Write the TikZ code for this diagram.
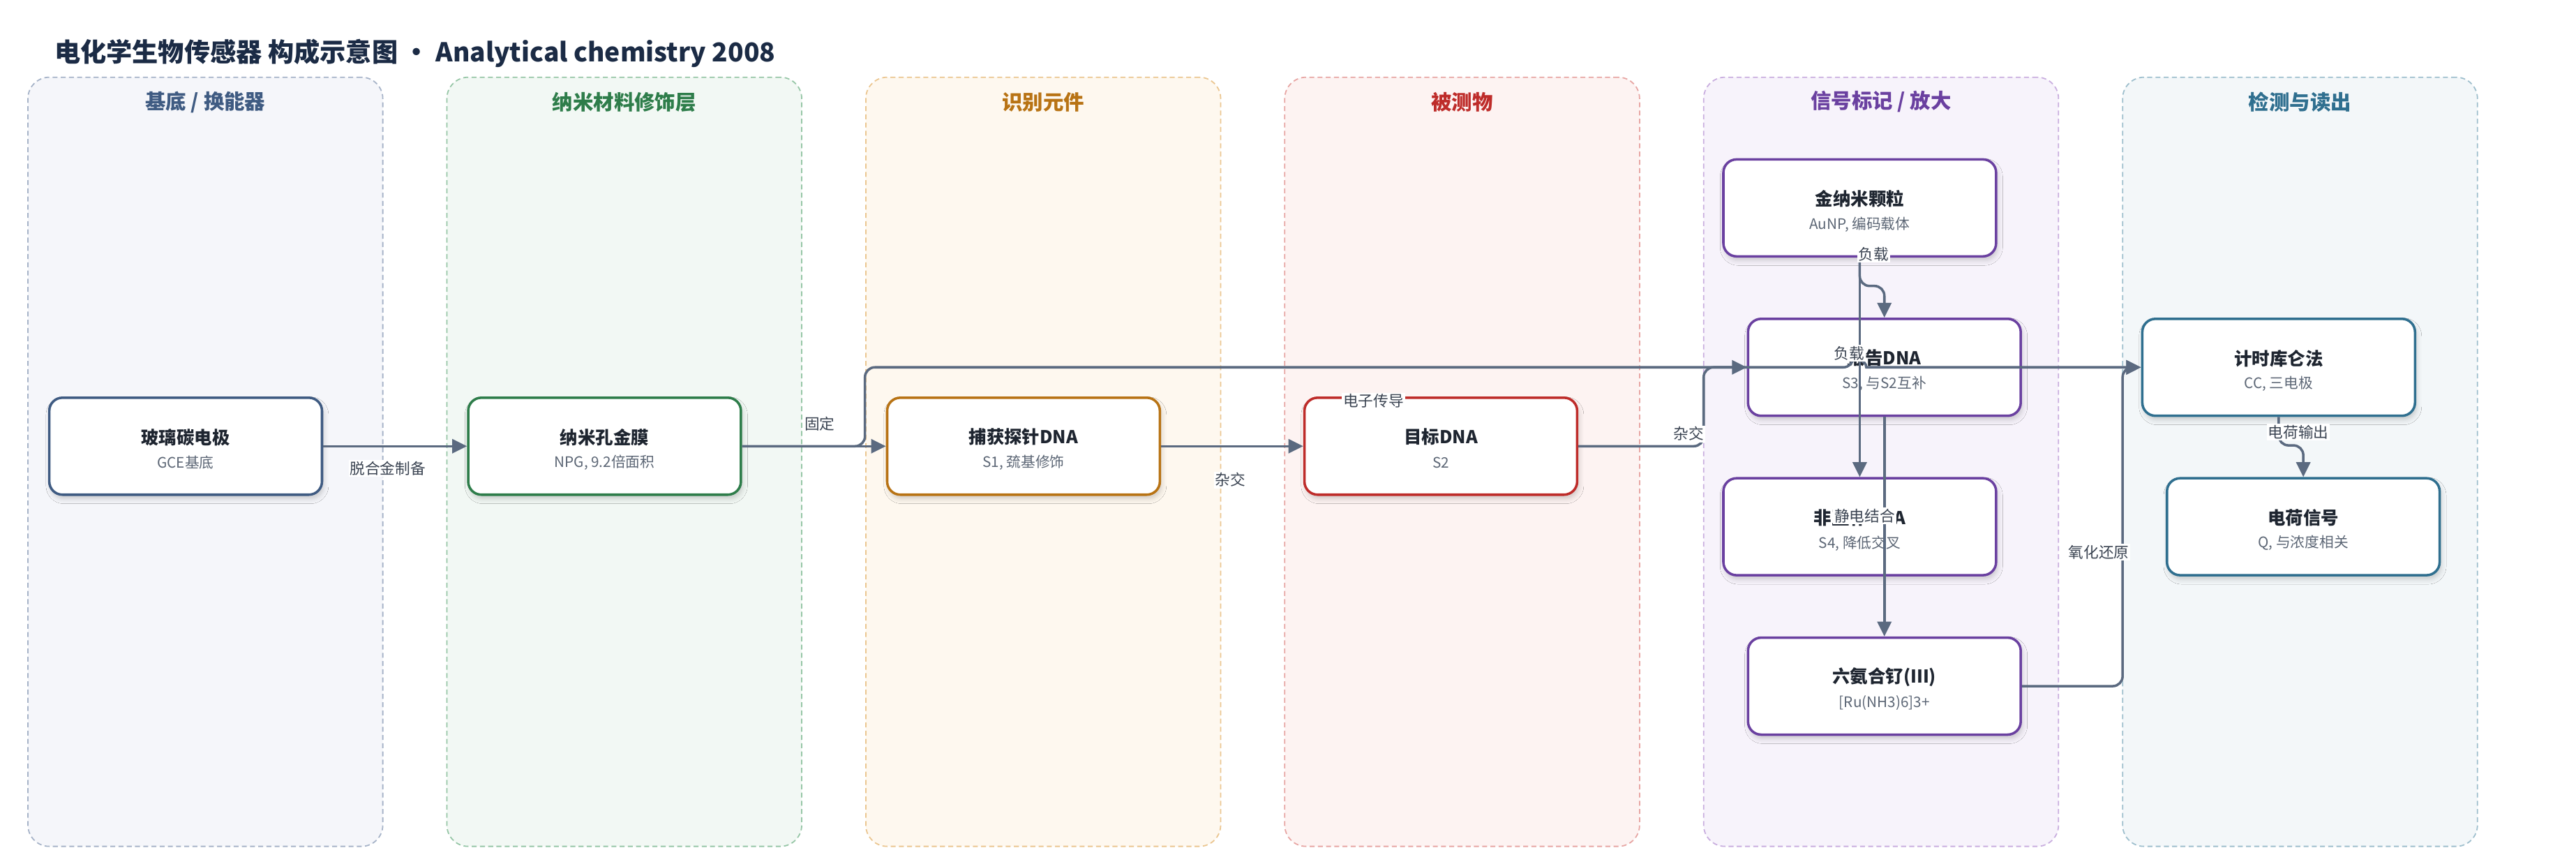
\documentclass[tikz,border=0pt]{standalone}
\usepackage{fontspec}
\setmainfont{Noto Sans CJK SC}
\usetikzlibrary{arrows.meta,shadows.blur}
\definecolor{titlecol}{HTML}{1B2B45}
\definecolor{txtdark}{HTML}{1E2530}
\definecolor{txtsub}{HTML}{5C6675}
\definecolor{edgecol}{HTML}{5B6A80}
\definecolor{labcol}{HTML}{3B4452}
% lane colours
\definecolor{fA}{HTML}{F5F6FA}\definecolor{bA}{HTML}{A6B3C8}\definecolor{cA}{HTML}{3F5B82}
\definecolor{fB}{HTML}{F2F8F4}\definecolor{bB}{HTML}{96C6A6}\definecolor{cB}{HTML}{2E7D4A}
\definecolor{fC}{HTML}{FEF8EF}\definecolor{bC}{HTML}{EBC690}\definecolor{cC}{HTML}{B87314}
\definecolor{fD}{HTML}{FDF3F2}\definecolor{bD}{HTML}{E7A5A3}\definecolor{cD}{HTML}{BE2C2A}
\definecolor{fE}{HTML}{F7F3FB}\definecolor{bE}{HTML}{C9AEDF}\definecolor{cE}{HTML}{6A40A0}
\definecolor{fF}{HTML}{F3F7F9}\definecolor{bF}{HTML}{9EBFCD}\definecolor{cF}{HTML}{2F6F8F}
\tikzset{
  lane/.style={rounded corners=13pt, dash pattern=on 3pt off 2pt, line width=0.75pt,
    minimum width=216pt, minimum height=468pt, inner sep=0pt},
  lanetitle/.style={font=\fontsize{12.5}{14}\selectfont\bfseries, inner sep=0pt},
  box/.style={rounded corners=8pt, line width=1.5pt, fill=white, minimum width=166pt,
    minimum height=59pt, inner sep=0pt,
    blur shadow={shadow xshift=1pt, shadow yshift=-2.5pt, shadow blur radius=3pt, shadow opacity=18}},
  ntitle/.style={font=\fontsize{10.8}{12}\selectfont\bfseries, text=txtdark, inner sep=0pt},
  nsub/.style={font=\fontsize{8.8}{10}\selectfont, text=txtsub, inner sep=0pt},
  conn/.style={draw=edgecol, line width=1.5pt, rounded corners=6pt,
    -{Triangle[length=9pt,width=8.5pt]}},
  elabel/.style={fill=white, inner sep=0.8pt, font=\fontsize{9.2}{10}\selectfont, text=labcol},
}
\newcommand\mybox[6]{%
  \node[box, draw=#4] (#1) at (#2,#3) {};
  \node[ntitle] (#1-t) at (#2,#3-5.5) {#5};
  \node[nsub] (#1-s) at (#2,#3+10) {#6};
}
\begin{document}
\begin{tikzpicture}[x=1pt,y=-1pt]
\useasboundingbox[fill=white] (0,0) rectangle (1568,524.5);
% title
\node[anchor=west, inner sep=0pt, font=\fontsize{15.8}{18}\selectfont\bfseries, text=titlecol] (title) at (33,32.5)
  {电化学生物传感器 构成示意图 · Analytical chemistry 2008};
% lanes
\node[lane, fill=fA, draw=bA] (laneA) at (125,281) {};
\node[lane, fill=fB, draw=bB] (laneB) at (380,281) {};
\node[lane, fill=fC, draw=bC] (laneC) at (635,281) {};
\node[lane, fill=fD, draw=bD] (laneD) at (890,281) {};
\node[lane, fill=fE, draw=bE] (laneE) at (1145,281) {};
\node[lane, fill=fF, draw=bF] (laneF) at (1400,281) {};
\node[lanetitle, text=cA] (ltA) at (125,62) {基底 / 换能器};
\node[lanetitle, text=cB] (ltB) at (380,62) {纳米材料修饰层};
\node[lanetitle, text=cC] (ltC) at (635,62) {识别元件};
\node[lanetitle, text=cD] (ltD) at (890,62) {被测物};
\node[lanetitle, text=cE] (ltE) at (1145,62) {信号标记 / 放大};
\node[lanetitle, text=cF] (ltF) at (1400,62) {检测与读出};
% nodes
\mybox{gce}{113}{271.5}{cA}{玻璃碳电极}{GCE基底}
\mybox{npg}{368}{271.5}{cB}{纳米孔金膜}{NPG, 9.2倍面积}
\mybox{cap}{623}{271.5}{cC}{捕获探针DNA}{S1, 巯基修饰}
\mybox{tgt}{877}{271.5}{cD}{目标DNA}{S2}
\mybox{au}{1132}{126.5}{cE}{金纳米颗粒}{AuNP, 编码载体}
\mybox{rep}{1147}{223.5}{cE}{报告DNA}{S3, 与S2互补}
\mybox{nsp}{1132}{320.5}{cE}{非互补DNA}{S4, 降低交叉}
\mybox{ru}{1147}{417.5}{cE}{六氨合钌(III)}{[Ru(NH3)6]3+}
\mybox{cc}{1387}{223.5}{cF}{计时库仑法}{CC, 三电极}
\mybox{q}{1402}{320.5}{cF}{电荷信号}{Q, 与浓度相关}
% connectors
\draw[conn] (gce.east) -- (npg.west);
\draw[conn] (npg.east) -- (cap.west);
\draw[conn] (npg.east) -- (526.5,271.5) -- (526.5,223.5) -- (1128,223.5) [sharp corners]
   .. controls (1128,218.5) and (1136,218.5) .. (1136,223.5) -- (cc.west);
\draw[conn] (cap.east) -- (tgt.west);
\draw[conn] (tgt.east) -- (1037,271.5) -- (1037,223.5) -- (rep.west);
\draw[conn] (au.south) -- (1132,174) -- (1147,174) -- (rep.north);
\draw[conn] (au.south) -- (nsp.north);
\draw[conn] (rep.south) -- (ru.north);
\draw[conn] (ru.east) -- (1292,417.5) -- (1292,223.5) -- (cc.west);
\draw[conn] (cc.south) -- (1387,271) -- (1402,271) -- (q.north);
% edge labels
\node[elabel] (l1) at (236,285) {脱合金制备};
\node[elabel] (l2) at (499,258) {固定};
\node[elabel] (l3) at (836,244) {电子传导};
\node[elabel] (l4) at (749,292) {杂交};
\node[elabel] (l5) at (1028,264) {杂交};
\node[elabel] (l6) at (1140.5,154.5) {负载};
\node[elabel] (l7) at (1125.5,215) {负载};
\node[elabel] (l8) at (1135,314) {静电结合};
\node[elabel] (l9) at (1277.5,336) {氧化还原};
\node[elabel] (l10) at (1399,263) {电荷输出};
\end{tikzpicture}
\end{document}
